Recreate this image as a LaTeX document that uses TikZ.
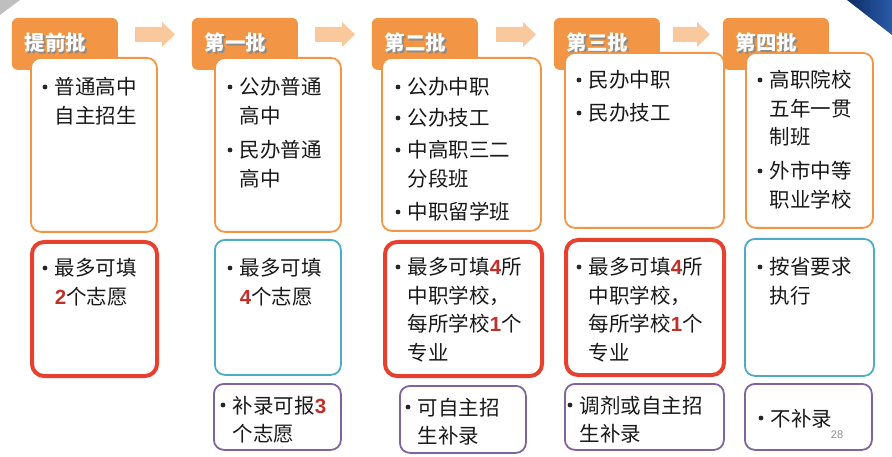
\documentclass[tikz,border=0pt]{standalone}
\usepackage{fontspec}
\setmainfont{Noto Sans CJK SC}
\newfontfamily\digitfont{Liberation Sans}
\usetikzlibrary{
	calc,
	positioning
}
\definecolor{tabOrange}{HTML}{F29645}
\definecolor{arrowOrange}{HTML}{F9C89C}
\definecolor{boxRed}{HTML}{E8402F}
\definecolor{boxBlue}{HTML}{4BACC6}
\definecolor{boxPurple}{HTML}{8064A2}
\definecolor{numRed}{HTML}{C0302A}
\definecolor{navyA}{HTML}{2A5AA8}
\definecolor{navyB}{HTML}{0E2C66}
\tikzset{every path/.append style={line width=1.8pt}}
\tikzset{
	dot/.style={circle,fill=black!85,inner sep=1.7pt,outer sep=0pt},
	box/.style={draw,fill=white,rounded corners=10pt,anchor=north west,inner sep=0pt},
	batch/.style={box,draw=tabOrange},
	limit/.style={box,draw=boxRed,line width=4pt,rounded corners=12pt},
	rule/.style={box,draw=boxBlue},
	extra/.style={box,draw=boxPurple},
	tab/.style={fill=tabOrange,rounded corners=6pt,anchor=north west,inner sep=0pt},
	head/.style={anchor=west,inner sep=0pt,text=white,font=\fontsize{20.5pt}{24pt}\selectfont\bfseries},
	item/.style={anchor=base west,inner sep=0pt,text=black!90,font=\fontsize{20.5pt}{28.5pt}\selectfont}
}
\newcommand{\hl}[1]{{\digitfont\bfseries\color{numRed}#1}}
\newcommand{\tikzBox}[5][]{\node (#5) at #2 [#1,minimum width=#3pt,minimum height=#4pt]{};}
\newcommand{\tikzTab}[3]{%
	\node (#2) at #1 [tab,minimum width=106pt,minimum height=52pt]{};
	\node (#2-shadow) at ($(#2.north west)+(14.2,27.2)$) [head,text=black!45]{#3};
	\node (#2-title) at ($(#2.north west)+(13,26)$) [head]{#3};
}
\newcommand{\tikzItem}[4]{%
	\node (#3) at (#1-1,#2+8) [item]{\begin{tabular}[t]{@{}l@{}}#4\end{tabular}};
	\node (#3-dot) at (#1-10,#2) [dot]{};
}
\newcommand{\tikzArrow}[2]{\fill[arrowOrange] #1 ++(0,-7.5) -- ++(#2-13,0) -- ++(0,-5) -- ++(13,12.5) -- ++(-13,12.5) -- ++(0,-5) -- ++(-#2+13,0) -- cycle;}

\begin{document}
\begin{tikzpicture}[x=1pt,y=-1pt]
	\useasboundingbox (0,0) rectangle (892,457);
	
	\fill[black!25] (0,0) -- (20,0) -- (0,15) -- cycle;
	\shade[left color=navyB,right color=navyA] (847,0) -- (892,0) -- (892,35) -- cycle;
	
	\tikzArrow{(135,34.5)}{40}
	\tikzArrow{(315,34.5)}{40}
	\tikzArrow{(496,34.5)}{40}
	\tikzArrow{(673,34.5)}{37}
	
	\tikzTab{(11,17)}{tab0}{提前批}
	\tikzTab{(191,17)}{tab1}{第一批}
	\tikzTab{(371,17)}{tab2}{第二批}
	\tikzTab{(553,17)}{tab3}{第三批}
	\tikzTab{(722,17)}{tab4}{第四批}
	
	\tikzBox[batch]{(30,57)}{126}{174}{kind0}
	\tikzBox[batch]{(214,57)}{126}{174}{kind1}
	\tikzBox[batch]{(381,57)}{159}{173}{kind2}
	\tikzBox[batch]{(564,52)}{159}{175}{kind3}
	\tikzBox[batch]{(745,52)}{127}{175}{kind4}
	
	\tikzBox[limit]{(30,240)}{125}{134}{fill0}
	\tikzBox[rule]{(214,239)}{126}{135}{fill1}
	\tikzBox[limit]{(383,240)}{157}{134}{fill2}
	\tikzBox[limit]{(564,238)}{158}{135}{fill3}
	\tikzBox[rule]{(744,238)}{129}{137}{fill4}
	
	\tikzBox[extra]{(213,383)}{127}{66}{add1}
	\tikzBox[extra]{(399,385)}{126}{67}{add2}
	\tikzBox[extra]{(564,383)}{159}{66}{add3}
	\tikzBox[extra]{(744,383)}{127}{66}{add4}
	
	\tikzItem{55}{87}{kind0-a}{普通高中\\自主招生}
	\tikzItem{240}{87}{kind1-a}{公办普通\\高中}
	\tikzItem{240}{150}{kind1-b}{民办普通\\高中}
	\tikzItem{408}{87}{kind2-a}{公办中职}
	\tikzItem{408}{118}{kind2-b}{公办技工}
	\tikzItem{408}{150}{kind2-c}{中高职三二\\分段班}
	\tikzItem{408}{212}{kind2-d}{中职留学班}
	\tikzItem{589}{80}{kind3-a}{民办中职}
	\tikzItem{589}{113}{kind3-b}{民办技工}
	\tikzItem{770}{80}{kind4-a}{高职院校\\五年一贯\\制班}
	\tikzItem{770}{171}{kind4-b}{外市中等\\职业学校}
	
	\tikzItem{55}{268}{fill0-a}{最多可填\\\hl{2}个志愿}
	\tikzItem{240}{268}{fill1-a}{最多可填\\\hl{4}个志愿}
	\tikzItem{408}{267}{fill2-a}{最多可填\hl{4}所\\中职学校，\\每所学校\hl{1}个\\专业}
	\tikzItem{589}{267}{fill3-a}{最多可填\hl{4}所\\中职学校，\\每所学校\hl{1}个\\专业}
	\tikzItem{770}{267}{fill4-a}{按省要求\\执行}
	
	\tikzItem{233}{405}{add1-a}{补录可报\hl{3}\\个志愿}
	\tikzItem{418}{407}{add2-a}{可自主招\\生补录}
	\tikzItem{580}{405}{add3-a}{调剂或自主招\\生补录}
	\tikzItem{771}{418}{add4-a}{不补录}
	
	\node (page) at (837,435) [inner sep=0pt,text=black!45,font=\digitfont\fontsize{11pt}{11pt}\selectfont]{28};
\end{tikzpicture}
\end{document}
